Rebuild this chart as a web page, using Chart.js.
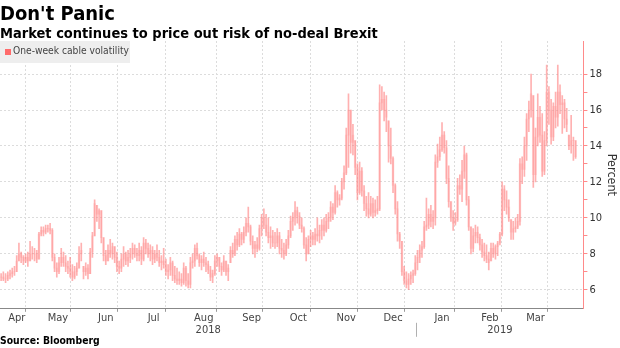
<!DOCTYPE html>
<html>
<head>
<meta charset="utf-8">
<script src="https://cdn.jsdelivr.net/npm/chart.js"></script>
<style>
  body { margin: 0; background: #fff; }
  #wrap { position: relative; width: 620px; height: 348px; overflow: hidden; font-family: "DejaVu Sans Condensed", "DejaVu Sans", sans-serif; }
  #title { position: absolute; left: 0; top: 1px; font-size: 20px; font-weight: bold; color: #000; }
  #subtitle { position: absolute; left: 0; top: 25px; font-size: 14.5px; font-weight: bold; color: #000; white-space: nowrap; }
  #legend { position: absolute; left: 0; top: 41px; width: 130px; height: 22px; background: #eeeeee; font-size: 10.2px; color: #444; white-space: nowrap; }
  #legend .sq { position: absolute; left: 5px; top: 8px; width: 6px; height: 6px; background: #ff6b6b; }
  #legend .txt { position: absolute; left: 13px; top: 4px; }
  #source { position: absolute; left: 0; top: 334px; font-size: 10.3px; font-weight: bold; color: #000; }
  canvas { position: absolute; left: 0; top: 0; }
</style>
</head>
<body>
<div id="wrap">
  <canvas id="volChart" width="620" height="348"></canvas>
  <div id="title">Don't Panic</div>
  <div id="subtitle">Market continues to price out risk of no-deal Brexit</div>
  <div id="legend"><div class="sq"></div><div class="txt">One-week cable volatility</div></div>
  <div id="source">Source: Bloomberg</div>
</div>

<script>
  // month labels and the trading-day index where each month starts (last entry = Apr 2019, no label)
  const monthLabels = ['Apr', 'May', 'Jun', 'Jul', 'Aug', 'Sep', 'Oct', 'Nov', 'Dec', 'Jan', 'Feb', 'Mar'];
  const monthStart = [0, 15, 37, 58, 80, 103, 123, 145, 166, 187, 210, 230, 251];
  const yearLabels = ['2018', '2019'];
  const yearStart = [0, 187];

  // daily high / low / close of one-week GBPUSD implied vol (percent), Apr 2018 - Apr 2019
  const high = [
    6.9,7.0,6.9,7.0,7.1,7.2,7.3,7.9,8.6,8.1,7.9,8.0,8.1,8.7,8.4,
    8.3,8.2,9.2,9.5,9.5,9.6,9.6,9.7,9.4,8.0,7.5,7.8,8.3,8.1,7.9,7.6,7.8,7.4,7.3,7.5,8.4,8.6,
    7.3,7.5,7.4,8.3,9.2,11.0,10.7,10.5,10.4,8.9,8.2,8.5,8.8,8.6,8.4,8.1,7.6,8.0,8.4,8.1,8.2,
    8.3,8.6,8.5,8.3,8.6,8.4,8.9,8.8,8.6,8.5,8.4,8.2,8.5,8.2,7.9,8.3,7.7,7.4,7.8,7.6,7.3,7.2,
    7.0,6.9,7.5,7.3,6.9,7.8,8.0,8.5,8.6,8.0,7.9,8.1,7.8,7.6,7.3,7.1,7.9,8.0,7.8,7.5,7.9,7.6,7.4,
    8.4,8.6,9.0,9.2,9.4,9.2,9.5,10.0,10.6,9.6,9.0,8.7,8.9,9.6,10.2,10.5,10.2,10.0,9.5,9.3,
    9.2,9.4,9.2,8.8,8.6,8.8,9.3,10.1,10.3,10.9,10.6,10.3,10.0,9.5,8.9,9.0,9.3,9.2,9.4,10.0,9.6,9.9,
    10.0,10.2,10.3,10.9,10.8,11.8,11.5,11.3,12.2,12.9,15.0,16.9,16.0,15.2,14.3,13.0,13.1,12.8,11.8,11.2,11.4,
    11.2,11.1,11.0,11.2,17.4,17.3,17.0,16.8,15.4,15.0,13.4,11.9,10.9,9.2,8.7,7.3,7.0,6.9,7.0,7.1,7.9,
    8.2,8.5,8.7,9.8,11.1,10.5,10.7,10.4,13.5,14.1,14.5,15.3,14.8,14.3,12.9,10.9,10.4,10.3,12.2,12.4,13.2,14.0,13.6,
    11.2,9.5,9.4,9.6,9.5,9.1,8.8,8.6,8.5,8.1,8.6,8.6,8.5,8.7,9.2,12.0,11.8,11.5,11.0,9.9,
    9.8,10.0,10.2,13.3,13.4,14.5,15.8,16.5,18.0,16.8,15.0,16.9,16.2,15.8,14.8,18.5,17.3,16.6,16.4,17.0,18.5,
    17.4,16.8,16.6,16.1,14.6,15.7,14.5,14.3
  ];
  const low = [
    6.5,6.5,6.4,6.5,6.6,6.7,6.8,7.0,7.6,7.5,7.4,7.5,7.3,7.6,7.7,
    7.6,7.5,7.7,9.0,9.0,9.1,9.2,9.1,7.6,7.0,6.7,6.9,7.3,7.3,7.0,6.9,6.7,6.5,6.6,6.8,7.2,7.6,
    6.6,6.8,6.6,6.9,7.8,9.0,9.8,9.4,8.6,7.6,7.4,7.6,7.8,7.7,7.5,7.0,6.9,7.0,7.3,7.4,7.3,
    7.5,7.7,7.8,7.6,7.6,7.4,7.6,8.0,7.8,7.6,7.4,7.5,7.6,7.3,7.1,7.2,6.8,6.6,6.8,6.5,6.4,6.3,
    6.3,6.2,6.3,6.2,6.1,6.1,7.2,7.3,7.7,7.3,7.1,7.3,7.0,6.9,6.5,6.4,6.8,7.3,7.0,6.8,7.0,6.8,6.5,
    7.5,7.8,7.9,8.2,8.4,8.5,8.6,9.0,9.2,8.5,8.0,7.8,8.1,8.2,9.0,9.4,9.0,8.6,8.3,8.4,
    8.3,8.4,8.0,7.8,7.7,7.9,8.3,8.9,9.3,9.6,9.7,9.4,9.2,8.3,7.6,8.0,8.4,8.5,8.5,8.7,8.6,8.8,
    9.0,9.2,9.4,9.8,9.9,10.2,10.6,10.7,11.0,11.6,12.4,12.8,13.6,13.5,12.4,11.0,11.3,11.2,10.4,10.1,10.0,
    10.1,10.0,10.1,10.2,10.4,16.0,15.4,14.8,13.1,13.0,11.4,10.2,8.7,8.3,6.8,6.3,6.1,6.0,6.3,6.4,6.8,
    7.1,7.5,7.8,8.3,9.3,9.4,9.5,9.4,9.6,12.8,13.2,13.7,13.6,11.9,10.6,9.8,9.3,9.6,9.8,11.3,10.9,12.2,10.7,
    9.3,8.0,8.1,8.6,8.6,8.2,7.8,7.6,7.5,7.1,7.6,7.8,7.7,7.9,8.5,9.0,10.4,10.2,9.8,8.8,
    8.8,9.2,9.4,9.6,11.9,12.3,13.2,14.8,15.6,11.7,12.0,14.0,14.2,12.3,12.4,14.0,15.2,14.1,14.3,15.0,15.1,
    15.8,14.7,15.0,14.8,13.8,13.6,13.2,13.3
  ];
  const close = [
    6.7,6.6,6.6,6.8,6.9,7.0,7.0,7.6,8.0,7.8,7.6,7.8,7.6,8.0,8.0,
    8.0,7.7,9.1,9.3,9.2,9.4,9.4,9.3,7.8,7.2,7.0,7.5,7.8,7.5,7.3,7.2,7.0,6.7,7.0,7.2,8.0,8.2,
    7.0,7.2,6.9,8.1,9.0,10.8,10.2,10.4,8.9,7.9,7.6,8.2,8.0,8.4,7.8,7.3,7.2,7.7,8.0,7.6,7.8,
    8.0,8.3,8.0,7.9,8.2,7.7,8.6,8.3,8.0,8.2,7.7,8.0,7.8,7.5,7.6,7.4,7.0,7.1,7.5,6.8,6.6,6.5,
    6.6,6.4,7.2,6.5,6.3,7.5,7.6,8.3,7.9,7.5,7.7,7.5,7.4,7.1,6.7,6.9,7.6,7.8,7.3,7.1,7.6,7.0,7.2,
    8.2,8.0,8.8,8.5,9.1,8.8,9.2,9.7,9.5,8.7,8.3,8.5,8.3,9.4,10.0,9.6,9.2,8.9,9.0,8.6,
    8.6,9.0,8.3,8.2,8.0,8.5,9.0,9.8,10.0,10.4,10.1,9.6,9.4,8.5,8.0,8.8,9.0,8.8,9.1,9.0,9.3,9.6,
    9.3,9.8,10.0,10.6,10.3,11.4,11.0,11.1,12.0,12.5,14.6,16.0,14.2,14.6,12.8,11.4,12.6,11.5,10.8,10.5,10.2,
    10.8,10.3,10.4,10.5,16.4,16.6,16.0,15.6,14.0,13.3,11.8,10.5,9.1,8.7,7.0,6.5,6.3,6.6,6.8,6.9,7.5,
    7.8,8.2,8.4,9.5,9.6,10.2,9.8,10.0,13.1,13.4,13.8,14.6,13.9,12.2,10.9,10.0,9.7,9.9,11.8,11.6,12.6,13.5,11.0,
    9.5,8.3,9.0,9.2,8.9,8.5,8.1,7.9,7.7,7.5,8.3,8.0,8.4,8.6,9.1,11.6,11.0,10.6,10.0,9.2,
    9.4,9.5,9.8,13.0,12.7,14.0,15.5,16.0,16.9,12.4,14.5,15.6,14.6,12.6,14.3,17.0,16.0,14.5,16.2,15.6,17.0,
    16.3,16.4,15.5,15.2,14.0,14.3,14.3,13.4
  ];

  // y axis ticks
  const yTicks = [6, 7, 8, 9, 10, 11, 12, 13, 14, 15, 16, 17, 18];

  // building floating-bar data: wick = low..high, body = open..close (open = previous close)
  const wickData = [];
  const bodyData = [];
  for (let i = 0; i < close.length; i++) {
    wickData.push({ x: i, y: [low[i], high[i]] });
    let open = i === 0 ? close[i] : close[i - 1];
    open = Math.min(high[i], Math.max(low[i], open));
    bodyData.push({ x: i, y: [open, close[i]] });
  }

  // month boundaries (gridlines) and month mid points (labels)
  const boundaries = monthStart.slice(1).map(v => v - 0.5);
  const mids = [];
  const X_MIN = -0.5, X_MAX = 261.5;
  for (let m = 0; m < monthLabels.length; m++) {
    const a = Math.max(monthStart[m] - 0.5, X_MIN);
    const b = monthStart[m + 1] - 0.5;
    mids.push((a + b) / 2);
  }
  const isBoundary = v => boundaries.some(b => Math.abs(b - v) < 0.01);

  const FONT = '"DejaVu Sans Condensed", "DejaVu Sans", sans-serif';
  const labelFont = { family: FONT, size: 11 };

  // year labels drawn under the month labels
  const yearPlugin = {
    id: 'yearLabels',
    afterDraw(chart) {
      const xs = chart.scales.x;
      const ctx = chart.ctx;
      const y = xs.top + 21;
      ctx.save();
      ctx.font = '11px ' + FONT;
      ctx.fillStyle = '#444';
      ctx.textAlign = 'center';
      ctx.textBaseline = 'middle';
      for (let k = 0; k < yearLabels.length; k++) {
        const a = k === 0 ? xs.left : xs.getPixelForValue(yearStart[k] - 0.5);
        const b = k + 1 < yearStart.length ? xs.getPixelForValue(yearStart[k + 1] - 0.5) : xs.right;
        ctx.fillText(yearLabels[k], (a + b) / 2, y);
        if (k > 0) {
          ctx.strokeStyle = '#b0b0b0';
          ctx.lineWidth = 1;
          ctx.beginPath();
          ctx.moveTo(Math.round(a) + 0.5, xs.top + 14);
          ctx.lineTo(Math.round(a) + 0.5, xs.top + 28);
          ctx.stroke();
        }
      }
      ctx.restore();
    }
  };

  const ctxVol = document.getElementById('volChart');

  new Chart(ctxVol, {
    type: 'bar',
    data: {
      datasets: [{
        label: 'wick',
        data: wickData,
        backgroundColor: 'rgba(255, 125, 125, 0.6)',
        barThickness: 1,
        grouped: false,
        order: 1
      }, {
        label: 'One-week cable volatility',
        data: bodyData,
        backgroundColor: 'rgba(255, 170, 170, 0.3)',
        barThickness: 2,
        grouped: false,
        order: 2
      }]
    },
    options: {
      responsive: false,
      animation: false,
      layout: { padding: { top: 41, left: 0, right: 0, bottom: 23 } },
      plugins: {
        legend: { display: false },
        tooltip: { enabled: false }
      },
      scales: {
        x: {
          type: 'linear',
          min: X_MIN,
          max: X_MAX,
          offset: false,
          afterBuildTicks: scale => {
            scale.ticks = boundaries.concat(mids).sort((a, b) => a - b).map(v => ({ value: v }));
          },
          grid: {
            color: c => (c.tick && isBoundary(c.tick.value)) ? '#dcdcdc' : 'rgba(0,0,0,0)',
            tickColor: c => (c.tick && isBoundary(c.tick.value)) ? '#999' : 'rgba(0,0,0,0)',
            tickLength: 3
          },
          border: { color: '#888', dash: [2, 2] },
          ticks: {
            autoSkip: false,
            maxRotation: 0,
            padding: 0,
            color: '#444',
            font: labelFont,
            callback: value => {
              const m = mids.findIndex(v => Math.abs(v - value) < 0.01);
              return m >= 0 ? monthLabels[m] : '';
            }
          }
        },
        y: {
          position: 'right',
          min: 4.94,
          max: 19.84,
          afterBuildTicks: scale => {
            scale.ticks = yTicks.map(v => ({ value: v }));
          },
          grid: {
            color: c => (c.tick && c.tick.value % 2 === 0) ? '#dcdcdc' : 'rgba(0,0,0,0)',
            tickColor: '#ff8a8a',
            tickLength: 4
          },
          border: { color: '#ff8a8a', dash: [2, 2] },
          ticks: {
            padding: 2,
            color: '#333',
            font: labelFont,
            callback: value => (value % 2 === 0 ? value : '')
          },
          title: {
            display: true,
            text: 'Percent',
            color: '#333',
            font: { family: FONT, size: 12.5 },
            padding: { top: 1, bottom: 0 }
          }
        }
      }
    },
    plugins: [yearPlugin]
  });
</script>
</body>
</html>
